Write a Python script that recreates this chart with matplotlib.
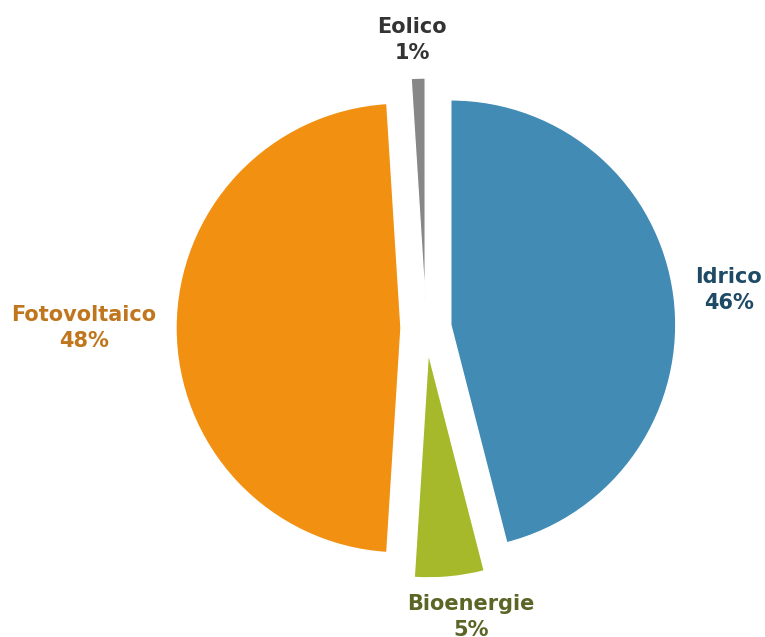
import numpy as np
import matplotlib
matplotlib.use("Agg")
import matplotlib.pyplot as plt

# Data
labels = ["Idrico", "Bioenergie", "Fotovoltaico", "Eolico"]
shares = [46, 5, 48, 1]

slice_colors = ["#418BB4", "#A6B92B", "#F29111", "#878787"]
text_colors = ["#1E4A66", "#5A6526", "#C0761C", "#333333"]
label_dist = [1.245, 1.19, 1.41, 1.17]  # label distance, in radii
label_turn = [0, 3.8, 0, 1.0]           # small angle nudge, degrees

fig = plt.figure(figsize=(7.65, 6.37), dpi=100)
ax = fig.add_axes([0, 0, 1, 1])
ax.set_aspect("equal")
ax.axis("off")

R = 225
wedges, _ = ax.pie(shares, colors=slice_colors, startangle=90, counterclock=False,
                   radius=R, center=(426, 309), explode=[25] * len(shares),
                   wedgeprops=dict(edgecolor="white", linewidth=1.0))
ax.set_xlim(0, 765)
ax.set_ylim(0, 637)

for w, lab, val, col, d, t in zip(wedges, labels, shares, text_colors, label_dist, label_turn):
    # middle angle of the wedge, label placed along it
    th = np.deg2rad((w.theta1 + w.theta2) / 2 + t)
    cx, cy = w.center
    ax.text(cx + d * R * np.cos(th), cy + d * R * np.sin(th),
            f"{lab}\n{val:.0f}%", ha="center", va="center", color=col,
            fontsize=15, fontweight="bold", linespacing=1.4,
            family=['DejaVu Sans'])

fig.savefig("out.png", dpi=100)
